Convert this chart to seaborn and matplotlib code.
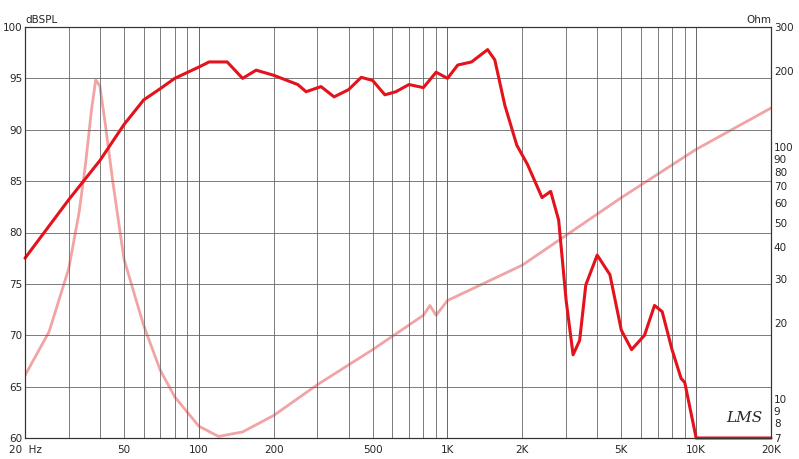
import numpy as np
import matplotlib
matplotlib.use("Agg")
import matplotlib.pyplot as plt
import seaborn as sns

spl_freq = [20, 30, 40, 50, 60, 70, 80, 100, 110, 130, 150, 170, 200, 250, 270, 310, 350, 400, 450, 500, 560, 620, 700, 800, 900, 1000, 1100, 1250, 1450, 1550, 1700, 1900, 2100, 2400, 2600, 2800, 3000, 3200, 3400, 3600, 4000, 4500, 5000, 5500, 6200, 6800, 7300, 8000, 8700, 9000, 10000, 20000]
spl_db = [77.5, 83.2, 87.0, 90.5, 92.9, 94.0, 95.0, 96.1, 96.6, 96.6, 95.0, 95.8, 95.3, 94.4, 93.7, 94.2, 93.2, 93.9, 95.1, 94.8, 93.4, 93.7, 94.4, 94.1, 95.6, 95.0, 96.3, 96.6, 97.8, 96.8, 92.4, 88.5, 86.6, 83.4, 84.0, 81.2, 73.4, 68.1, 69.5, 74.9, 77.8, 75.9, 70.5, 68.6, 70.0, 72.9, 72.3, 68.6, 65.8, 65.4, 60.0, 60.0]

imp_freq = [20, 25, 30, 33, 35, 37, 38.5, 40, 42, 45, 50, 60, 70, 80, 100, 120, 150, 200, 300, 500, 800, 850, 900, 1000, 2000, 5000, 10000, 20000]
imp_ohm = [12.4, 18.5, 33, 55, 85, 140, 185, 175, 125, 74, 36, 19.6, 13, 10.2, 7.8, 7.1, 7.4, 8.6, 11.4, 15.7, 21.5, 23.5, 21.5, 24.6, 34, 63, 98, 143]

x_ticks = [20, 50, 100, 200, 500, 1000, 2000, 5000, 10000, 20000]
x_labels = ["20  Hz", "50", "100", "200", "500", "1K", "2K", "5K", "10K", "20K"]
y_ticks = [60, 65, 70, 75, 80, 85, 90, 95, 100]
r_ticks = [7, 8, 9, 10, 20, 30, 40, 50, 60, 70, 80, 90, 100, 200, 300]

sns.set_theme(style="white")
plt.rcParams['font.family'] = ['DejaVu Sans']
fig = plt.figure(figsize=(7.99, 4.59), dpi=100)
ax = fig.add_axes([25/799, 21/459, 746/799, 411/459])
ax2 = ax.twinx()

grid_x = [f for d in [10, 100, 1000, 10000] for f in range(2*d if d == 10 else d, 10*d+1, d)]
for f in grid_x:
    if 20 <= f <= 20000:
        ax.axvline(f, color="#666666", lw=0.6, zorder=0)
for y in y_ticks:
    ax.axhline(y, color="#666666", lw=0.6, zorder=0)

sns.lineplot(x=imp_freq, y=imp_ohm, ax=ax2, color="#f2a3a3", lw=2, clip_on=True)
sns.lineplot(x=spl_freq, y=spl_db, ax=ax, color="#e3121b", lw=2.2, clip_on=False)

ax.set_xscale("log")
ax.set_xlim(20, 20000)
ax.set_ylim(60, 100)
ax2.set_yscale("log")
ax2.set_ylim(7, 300)
ax.set_xticks(x_ticks)
ax.set_xticklabels(x_labels)
ax.xaxis.set_minor_locator(matplotlib.ticker.NullLocator())
ax.set_yticks(y_ticks)
ax2.set_yticks(r_ticks)
ax2.set_yticklabels([str(t) for t in r_ticks])
ax2.yaxis.set_minor_locator(matplotlib.ticker.NullLocator())
for a in (ax, ax2):
    a.tick_params(labelsize=7.5, length=0, pad=2)
    for s in a.spines.values():
        s.set_color("#333333"); s.set_linewidth(0.8)
ax.tick_params(axis="x", pad=5)
ax.set_zorder(ax2.get_zorder() + 1)
ax.patch.set_visible(False)
fig.text(25/799, 1 - 20/459, "dBSPL", fontsize=7.5, va="center")
fig.text(771/799, 1 - 20/459, "Ohm", fontsize=7.5, va="center", ha="right")
ax.text(0.94, 0.04, "LMS", transform=ax.transAxes, fontsize=11, style="italic", family="serif")
fig.savefig("out.png", dpi=100)
